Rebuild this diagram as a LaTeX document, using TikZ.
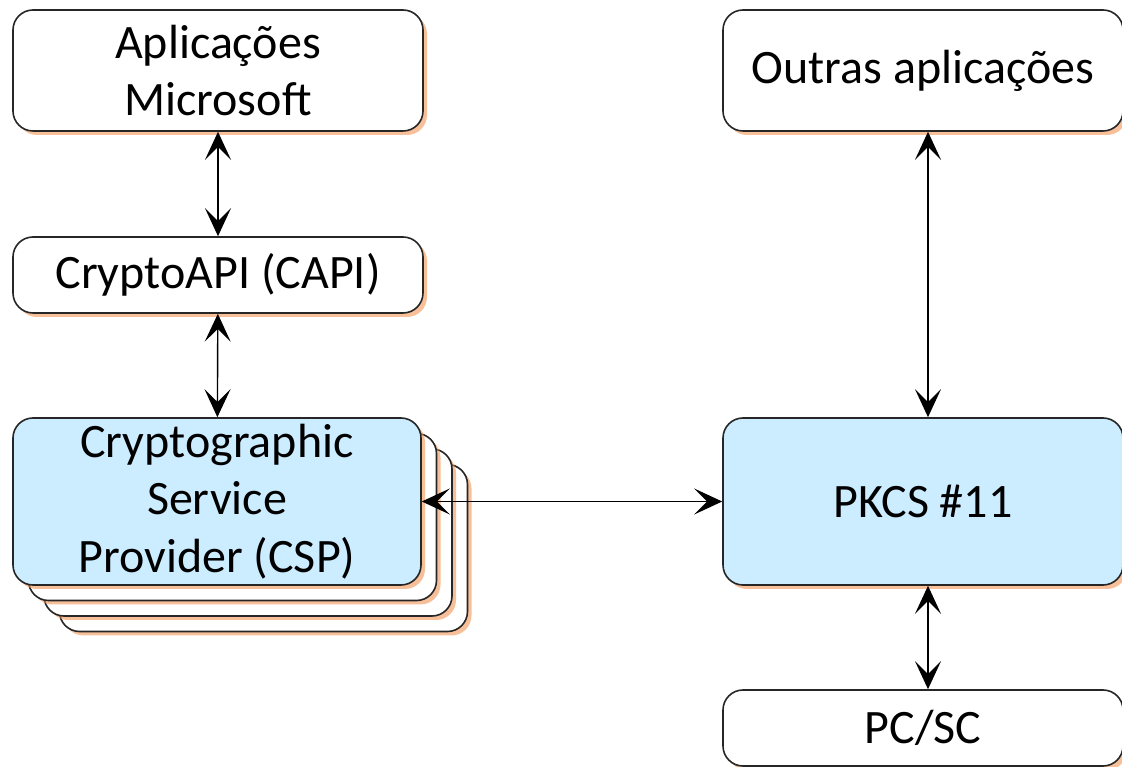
\documentclass[tikz,border=0pt]{standalone}
\usepackage{fontspec}
\setmainfont{Carlito}
\usetikzlibrary{arrows.meta,shadows}
\definecolor{cspblue}{RGB}{204,236,255}
\definecolor{shadoworange}{RGB}{240,140,70}

\tikzset{
  box/.style={draw=black!85,line width=1.6pt,rounded corners=20pt,fill=white,
    align=center,inner sep=0pt,font=\fontsize{48}{57.5}\selectfont,
    drop shadow={shadow xshift=4pt,shadow yshift=-4pt,fill=shadoworange,opacity=.55}},
  bluebox/.style={box,fill=cspblue},
  link/.style={{Stealth[length=28pt,width=26pt,inset=13pt]}-{Stealth[length=28pt,width=26pt,inset=13pt]},line width=1.4pt}
}

\begin{document}
\begin{tikzpicture}[x=1pt,y=1pt]

\useasboundingbox (0,0) rectangle (1122,766);

% left column
\node[box,minimum width=410pt,minimum height=121pt] (app) at (218,695.5) {Aplicações\\Microsoft};
\node[box,minimum width=410pt,minimum height=76pt] (capi) at (218,491) {CryptoAPI (CAPI)};

% stack of providers behind the CSP
\foreach \i in {3,2,1}
  \node[box,minimum width=408pt,minimum height=167pt] (csp\i) at (217+\i*15.5,264.5-\i*15.5) {};
\node[bluebox,minimum width=408pt,minimum height=167pt] (csp) at (217,264.5) {Cryptographic\\Service\\Provider (CSP)};

% right column
\node[box,minimum width=400pt,minimum height=121pt] (other) at (923,695.5) {Outras aplicações};
\node[bluebox,minimum width=400pt,minimum height=167pt] (pkcs) at (923,264.5) {PKCS \#11};
\node[box,minimum width=400pt,minimum height=76pt] (pcsc) at (923,38) {PC/SC};

\draw[link] (app) -- (capi);
\draw[link] (capi) -- (csp);
\draw[link] (csp) -- (pkcs);
\draw[link] ([xshift=5pt]other.south) -- ([xshift=5pt]pkcs.north);
\draw[link] ([xshift=5pt]pkcs.south) -- ([xshift=5pt]pcsc.north);

\end{tikzpicture}
\end{document}
